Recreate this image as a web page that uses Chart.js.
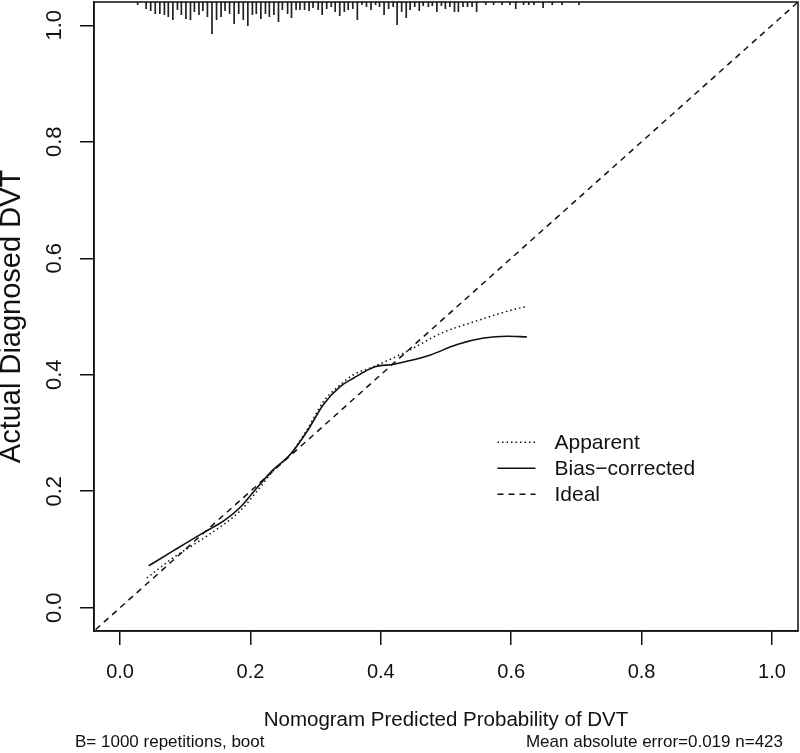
<!DOCTYPE html>
<html>
<head>
<meta charset="utf-8">
<script src="https://cdn.jsdelivr.net/npm/chart.js@4.4.0/dist/chart.umd.min.js"></script>
<style>
  body { margin: 0; background: #fff; }
  canvas { display: block; }
</style>
</head>
<body>
<canvas id="calib" width="800" height="753"></canvas>
<script>
// axis ticks
const tickValues = [0, 0.2, 0.4, 0.6, 0.8, 1.0];
const tickLabels = ["0.0", "0.2", "0.4", "0.6", "0.8", "1.0"];

// apparent calibration curve (dotted)
const apparentX = [0.041, 0.082, 0.133, 0.184, 0.210, 0.235, 0.261, 0.287, 0.312, 0.338, 0.358, 0.389, 0.440, 0.492, 0.543, 0.594, 0.622];
const apparentY = [0.051, 0.086, 0.123, 0.166, 0.200, 0.235, 0.263, 0.306, 0.354, 0.383, 0.400, 0.414, 0.440, 0.471, 0.491, 0.509, 0.517];

// bias-corrected calibration curve (solid)
const biasX = [0.044, 0.082, 0.128, 0.159, 0.184, 0.210, 0.235, 0.261, 0.287, 0.312, 0.338, 0.358, 0.389, 0.420, 0.440, 0.476, 0.517, 0.558, 0.594, 0.624];
const biasY = [0.072, 0.098, 0.129, 0.149, 0.172, 0.206, 0.237, 0.263, 0.303, 0.349, 0.380, 0.394, 0.413, 0.418, 0.423, 0.434, 0.452, 0.463, 0.466, 0.465];

// ideal line y = x
const idealX = [-0.05, 1.05];

// spike histogram of predicted probabilities along the top
const rugX = [0.027, 0.040, 0.047, 0.054, 0.061, 0.068, 0.074, 0.081, 0.088, 0.094, 0.101, 0.108, 0.114, 0.121, 0.127, 0.134, 0.141, 0.148, 0.155, 0.161, 0.168, 0.175, 0.182,
  0.189, 0.196, 0.203, 0.209, 0.216, 0.223, 0.229, 0.236, 0.243, 0.249, 0.257, 0.263, 0.270, 0.276, 0.283, 0.290, 0.296, 0.304, 0.310, 0.317, 0.324, 0.330, 0.337, 0.344, 0.350, 0.357,
  0.364, 0.371, 0.378, 0.385, 0.392, 0.398, 0.405, 0.412, 0.419, 0.425, 0.432, 0.439, 0.445, 0.452, 0.459, 0.465, 0.473, 0.479, 0.486, 0.493, 0.499, 0.506, 0.513, 0.519, 0.526,
  0.533, 0.540, 0.547, 0.561, 0.573, 0.586, 0.598, 0.607, 0.619, 0.627, 0.635, 0.649, 0.663, 0.678, 0.704];
const rugN = [3, 7, 9, 12, 12, 13, 15, 18, 8, 13, 17, 18, 10, 13, 9, 15, 32, 18, 15, 9, 12, 22, 12,
  18, 24, 13, 12, 17, 12, 15, 13, 20, 8, 12, 16, 8, 8, 8, 9, 6, 8, 13, 7, 5, 10, 14, 10, 8, 7,
  18, 3, 5, 8, 3, 5, 13, 7, 5, 23, 10, 16, 8, 5, 9, 4, 5, 4, 10, 4, 7, 5, 10, 10, 5,
  5, 5, 10, 3, 3, 3, 3, 7, 3, 3, 3, 6, 3, 3, 3];

const footLeft = "B= 1000 repetitions, boot";
const footRight = "Mean absolute error=0.019 n=423";

const AX_MIN = -0.04, AX_MAX = 1.04;
const RUG_UNIT = 1.08 / 629;
const INK = "#111";
const SANS = "'Liberation Sans', Arial, Helvetica, sans-serif";

let rugPts = [];
rugX.forEach(function(v, i) {
    rugPts.push({x: v, y: AX_MAX}, {x: v, y: AX_MAX - rugN[i] * RUG_UNIT}, {x: v, y: null});
});

const zip = (xs, ys) => xs.map((v, i) => ({x: v, y: ys[i]}));

// box around the plot, legend and footnotes
const framePlugin = {
    id: "frame",
    afterDraw: function(chart, args, opts) {
        const ctx = chart.ctx;
        const a = chart.chartArea;
        const sx = chart.scales.x, sy = chart.scales.y;
        ctx.save();
        ctx.strokeStyle = INK;
        ctx.lineWidth = 1.5;
        ctx.strokeRect(a.left, a.top, a.right - a.left, a.bottom - a.top);

        // legend
        let lx = sx.getPixelForValue(opts.legendX);
        let ly = sy.getPixelForValue(opts.legendY);
        ctx.font = "21px " + SANS;
        ctx.textBaseline = "middle";
        ctx.fillStyle = INK;
        chart.data.datasets.forEach(function(ds) {
            if (!ds.inLegend) return;
            ctx.beginPath();
            ctx.setLineDash(ds.borderDash || []);
            ctx.lineWidth = ds.borderWidth;
            ctx.strokeStyle = ds.borderColor;
            ctx.moveTo(lx, ly);
            ctx.lineTo(lx + 38, ly);
            ctx.stroke();
            ctx.setLineDash([]);
            ctx.fillText(ds.label, lx + 57, ly + 1);
            ly += 26;
        });

        // footnotes
        ctx.font = "17px " + SANS;
        ctx.textAlign = "left";
        ctx.fillText(footLeft, 75, 742);
        ctx.textAlign = "right";
        ctx.fillText(footRight, 783, 742);
        ctx.restore();
    }
};

new Chart(document.getElementById("calib"), {
    type: "scatter",
    data: {
        datasets: [
            {
                label: "rug",
                data: rugPts,
                showLine: true,
                borderColor: "#222",
                borderWidth: 1.7,
                pointRadius: 0,
                tension: 0
            },
            {
                label: "Apparent",
                inLegend: true,
                data: zip(apparentX, apparentY),
                showLine: true,
                borderColor: INK,
                borderWidth: 1.5,
                borderDash: [1.5, 3],
                pointRadius: 0,
                cubicInterpolationMode: "monotone"
            },
            {
                label: "Bias\u2212corrected",
                inLegend: true,
                data: zip(biasX, biasY),
                showLine: true,
                borderColor: INK,
                borderWidth: 1.6,
                pointRadius: 0,
                cubicInterpolationMode: "monotone"
            },
            {
                label: "Ideal",
                inLegend: true,
                data: zip(idealX, idealX),
                showLine: true,
                borderColor: INK,
                borderWidth: 1.5,
                borderDash: [6, 5],
                pointRadius: 0
            }
        ]
    },
    options: {
        responsive: false,
        animation: false,
        devicePixelRatio: 1,
        layout: { padding: { top: 2, right: 2, bottom: 22, left: 0 } },
        plugins: {
            legend: { display: false },
            tooltip: { enabled: false },
            frame: { legendX: 0.579, legendY: 0.284 }
        },
        scales: {
            x: {
                type: "linear",
                min: AX_MIN,
                max: AX_MAX,
                afterBuildTicks: function(s) { s.ticks = tickValues.map(v => ({value: v})); },
                afterFit: function(s) {
                    s.height = 100;
                    s.paddingLeft = 0;
                    s.paddingRight = 0;
                },
                ticks: {
                    callback: (v, i) => tickLabels[i],
                    font: { family: SANS, size: 20 },
                    color: INK,
                    padding: 15,
                    maxRotation: 0,
                    autoSkip: false
                },
                grid: { drawOnChartArea: false, drawTicks: true, tickLength: 14, color: INK, lineWidth: 1.5 },
                border: { display: true, color: INK, width: 1.5 },
                title: {
                    display: true,
                    text: "Nomogram Predicted Probability of DVT",
                    font: { family: SANS, size: 20.5, lineHeight: 1 },
                    color: INK,
                    padding: 0
                }
            },
            y: {
                type: "linear",
                min: AX_MIN,
                max: AX_MAX,
                afterBuildTicks: function(s) { s.ticks = tickValues.map(v => ({value: v})); },
                afterFit: function(s) {
                    s.width = 94;
                    s.paddingTop = 0;
                    s.paddingBottom = 0;
                },
                ticks: {
                    callback: (v, i) => tickLabels[i],
                    font: { family: SANS, size: 22 },
                    color: INK,
                    minRotation: 90,
                    maxRotation: 90,
                    crossAlign: "center",
                    padding: 10,
                    autoSkip: false
                },
                grid: { drawOnChartArea: false, drawTicks: true, tickLength: 14, color: INK, lineWidth: 1.5 },
                border: { display: true, color: INK, width: 1.5 },
                title: {
                    display: true,
                    text: "Actual Diagnosed DVT",
                    font: { family: SANS, size: 29, lineHeight: 0.86 },
                    color: INK,
                    padding: 0
                }
            }
        }
    },
    plugins: [framePlugin]
});
</script>
</body>
</html>
